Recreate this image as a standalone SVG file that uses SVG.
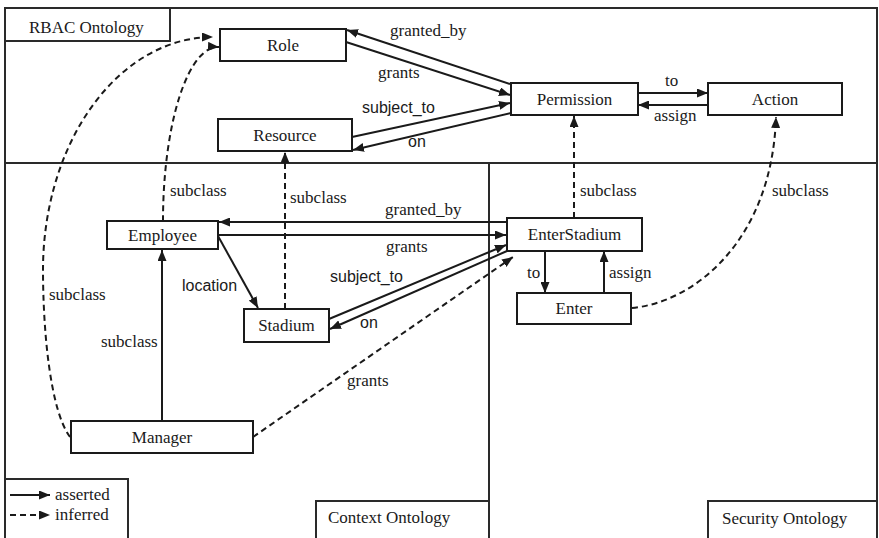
<svg xmlns="http://www.w3.org/2000/svg" width="879" height="538" viewBox="0 0 879 538">
  <defs>
    <marker id="arrow" markerUnits="userSpaceOnUse" markerWidth="11" markerHeight="9" refX="11" refY="4.5" orient="auto">
      <path d="M0,0 L11,4.5 L0,9 z" fill="#1a1a1a"/>
    </marker>
  </defs>
  <style>
    .frame { fill: none; stroke: #2a2a2a; stroke-width: 2; }
    .box { fill: #fff; stroke: #1a1a1a; stroke-width: 2; }
    .lbl { font-family: "Liberation Serif", "Times New Roman", serif; font-size: 17px; fill: #1a1a1a; }
    .name { font-family: "Liberation Serif", "Times New Roman", serif; font-size: 17px; fill: #1a1a1a; text-anchor: middle; }
    .sans { font-family: "Liberation Sans", Arial, sans-serif; font-size: 16px; fill: #1a1a1a; }
    .solid { fill: none; stroke: #1a1a1a; stroke-width: 2; marker-end: url(#arrow); }
    .dash { fill: none; stroke: #1a1a1a; stroke-width: 2; stroke-dasharray: 6 4; }
    .dashed { fill: none; stroke: #1a1a1a; stroke-width: 2; stroke-dasharray: 6 4; marker-end: url(#arrow); }
    .plain { fill: none; stroke: #1a1a1a; stroke-width: 2; }
  </style>

  <rect width="879" height="538" fill="#ffffff"/>

  <!-- ontology regions -->
  <g id="regions">
    <path class="frame" d="M5,540 L5,8 L877,8 L877,540"/>
    <line class="frame" x1="5" y1="163" x2="877" y2="163"/>
    <line class="frame" x1="489" y1="163" x2="489" y2="540"/>
    <rect class="frame" x="5" y="8" width="165" height="33"/>
    <text class="lbl" x="29" y="33">RBAC Ontology</text>
    <path class="frame" d="M316,540 L316,501 L489,501"/>
    <text class="lbl" x="328" y="523">Context Ontology</text>
    <path class="frame" d="M708,540 L708,501 L877,501"/>
    <text class="lbl" x="722" y="524">Security Ontology</text>
  </g>

  <!-- legend -->
  <g id="legend">
    <path class="frame" d="M5,479 L128,479 L128,540"/>
    <line class="solid" x1="10" y1="495" x2="50" y2="495"/>
    <text class="lbl" x="55" y="500">asserted</text>
    <line class="dashed" x1="10" y1="515" x2="50" y2="515"/>
    <text class="lbl" x="55" y="520">inferred</text>
  </g>

  <!-- connectors -->
  <g id="connectors">
    <!-- RBAC -->
    <line class="solid" x1="510" y1="84" x2="347" y2="30"/>
    <text class="lbl" x="390" y="36">granted_by</text>
    <line class="solid" x1="346" y1="42" x2="510" y2="95"/>
    <text class="lbl" x="378" y="78">grants</text>
    <line class="solid" x1="352" y1="137" x2="510" y2="103"/>
    <text class="sans" x="362" y="113">subject_to</text>
    <line class="solid" x1="511" y1="113" x2="353" y2="150"/>
    <text class="sans" x="408" y="147">on</text>
    <line class="solid" x1="638" y1="93" x2="708" y2="93"/>
    <text class="lbl" x="665" y="86">to</text>
    <line class="solid" x1="708" y1="105" x2="638" y2="105"/>
    <text class="lbl" x="654" y="121">assign</text>

    <!-- subclass (inferred) -->
    <path class="dashed" d="M70,437 C50,410 43,330 43,270 A170,233 0 0 1 213,37"/>
    <text class="lbl" x="49" y="300">subclass</text>
    <path class="dashed" d="M163,221 A55,174 0 0 1 219,47"/>
    <text class="lbl" x="170" y="196">subclass</text>
    <line class="dashed" x1="285" y1="309" x2="285" y2="152"/>
    <text class="lbl" x="290" y="203">subclass</text>
    <line class="dashed" x1="574" y1="218" x2="574" y2="116"/>
    <text class="lbl" x="580" y="196">subclass</text>
    <path class="dashed" d="M632,308 C695,302 772,240 776,117"/>
    <text class="lbl" x="772" y="196">subclass</text>

    <!-- Context -->
    <line class="solid" x1="162" y1="421" x2="162" y2="250"/>
    <text class="lbl" x="101" y="347">subclass</text>
    <line class="solid" x1="218" y1="236" x2="258" y2="308"/>
    <text class="sans" x="182" y="291">location</text>
    <line class="solid" x1="507" y1="222" x2="219" y2="222"/>
    <text class="lbl" x="385" y="215">granted_by</text>
    <line class="solid" x1="218" y1="235" x2="506" y2="235"/>
    <text class="lbl" x="386" y="252">grants</text>
    <line class="solid" x1="329" y1="319" x2="506" y2="245"/>
    <text class="sans" x="330" y="282">subject_to</text>
    <line class="solid" x1="507" y1="251" x2="330" y2="329"/>
    <text class="sans" x="360" y="328">on</text>
    <line class="dashed" x1="253" y1="437" x2="513" y2="257"/>
    <text class="lbl" x="347" y="386">grants</text>

    <!-- Security -->
    <line class="solid" x1="545" y1="251" x2="545" y2="293"/>
    <text class="lbl" x="527" y="278">to</text>
    <line class="solid" x1="604" y1="293" x2="604" y2="251"/>
    <text class="lbl" x="609" y="278">assign</text>
  </g>

  <!-- nodes -->
  <g id="role">
    <rect class="box" x="220" y="29" width="126" height="32"/>
    <text class="name" x="283" y="51">Role</text>
  </g>
  <g id="resource">
    <rect class="box" x="218" y="119" width="134" height="32"/>
    <text class="name" x="285" y="141">Resource</text>
  </g>
  <g id="permission">
    <rect class="box" x="511" y="83" width="127" height="32"/>
    <text class="name" x="574.5" y="105">Permission</text>
  </g>
  <g id="action">
    <rect class="box" x="708" y="83" width="134" height="32"/>
    <text class="name" x="775" y="105">Action</text>
  </g>
  <g id="employee">
    <rect class="box" x="107" y="221" width="111" height="28"/>
    <text class="name" x="162.5" y="241">Employee</text>
  </g>
  <g id="stadium">
    <rect class="box" x="244" y="309" width="85" height="33"/>
    <text class="name" x="286.5" y="331">Stadium</text>
  </g>
  <g id="manager">
    <rect class="box" x="71" y="421" width="182" height="32"/>
    <text class="name" x="162" y="443">Manager</text>
  </g>
  <g id="enterstadium">
    <rect class="box" x="507" y="218" width="135" height="33"/>
    <text class="name" x="574.5" y="240">EnterStadium</text>
  </g>
  <g id="enter">
    <rect class="box" x="517" y="293" width="114" height="31"/>
    <text class="name" x="574" y="314">Enter</text>
  </g>
</svg>
